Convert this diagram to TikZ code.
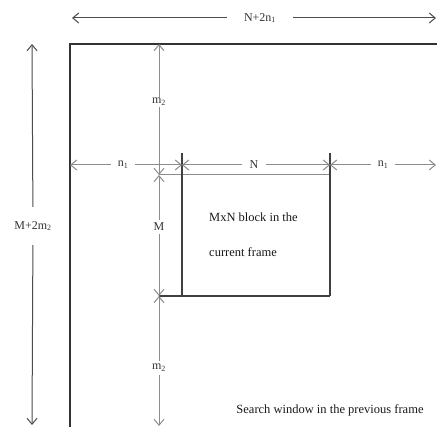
\documentclass[tikz,border=0pt]{standalone}
\usepackage{fontspec}
\setmainfont{Liberation Serif}
\usetikzlibrary{arrows.meta}
\begin{document}
\begin{tikzpicture}[x=1pt,y=-1pt,
  >={Straight Barb[length=6pt,width=10pt]},
  frame/.style={draw=black!80,line width=1.5pt},
  edge/.style={draw=black!75,line width=1.2pt},
  dimdark/.style={draw=black!70,line width=1pt},
  dimlight/.style={draw=black!45,line width=1pt},
  lab/.style={font=\fontsize{12}{14}\selectfont,text=black!80,inner sep=2pt},
  txt/.style={font=\fontsize{12.5}{15}\selectfont,text=black!90,inner sep=0pt}]
\useasboundingbox (0,0) rectangle (437,427);
% frame (search window)
\coordinate (ftl) at (70,44);
\coordinate (ftr) at (437,44);
\coordinate (fbl) at (70,427);
\draw[frame] (ftr) -- (ftl) -- (fbl);
% block
\coordinate (btl) at (159,175);
\coordinate (btr) at (330,175);
\coordinate (blt) at (182,153);
\coordinate (blb) at (182,296);
\coordinate (brt) at (330,153);
\coordinate (brb) at (330,296);
\coordinate (bbl) at (159,296);
\draw[dimlight] (btl) -- (btr);
\draw[edge] (blt) -- (blb);
\draw[edge] (brt) -- (brb);
\draw[edge] (bbl) -- (brb);
% top dimension N+2n1
\coordinate (ta) at (72,18);
\coordinate (tb) at (436,18);
\node[lab,inner xsep=17pt] (tl) at (260,18) {N+2n\textsubscript{1}};
\draw[dimdark,->] (tl) -- (ta);
\draw[dimdark,->] (tl) -- (tb);
% left dimension M+2m2
\coordinate (la) at (32,44);
\coordinate (lb) at (32,425);
\node[lab,inner ysep=14pt] (ll) at (33,226) {M+2m\textsubscript{2}};
\draw[dimdark,->] (ll) -- (la);
\draw[dimdark,->] (ll) -- (lb);
% vertical dimensions at x=159
\coordinate (v0) at (159,44);
\coordinate (v1) at (159,175);
\coordinate (v2) at (159,296);
\coordinate (v3) at (159,426);
\node[lab,inner ysep=1pt] (m2a) at (159,102) {m\textsubscript{2}};
\node[lab,inner ysep=3pt] (mm) at (159,227) {M};
\node[lab,inner ysep=3pt] (m2b) at (159,368) {m\textsubscript{2}};
\draw[dimlight,->] (m2a) -- (v0);
\draw[dimlight,->] (m2a) -- (v1);
\draw[dimlight,->] (mm) -- (v1);
\draw[dimlight,->] (mm) -- (v2);
\draw[dimlight,->] (m2b) -- (v2);
\draw[dimlight,->] (m2b) -- (v3);
% horizontal dimensions at y=165
\coordinate (h0) at (70,165);
\coordinate (h1) at (182,165);
\coordinate (h2) at (330,165);
\coordinate (h3) at (436,165);
\node[lab,inner xsep=7pt] (n1a) at (123,165) {n\textsubscript{1}};
\node[lab,inner xsep=7pt] (nn) at (254,165) {N};
\node[lab,inner xsep=7pt] (n1b) at (383,165) {n\textsubscript{1}};
\draw[dimlight,->] (n1a) -- (h0);
\draw[dimlight,->] (n1a) -- (h1);
\draw[dimlight,->] (nn) -- (h1);
\draw[dimlight,->] (nn) -- (h2);
\draw[dimlight,->] (n1b) -- (h2);
\draw[dimlight,->] (n1b) -- (h3);
% texts
\node[txt,anchor=west] (t1) at (209,217) {MxN block in the};
\node[txt,anchor=west] (t2) at (209,252) {current frame};
\node[txt] (t3) at (330,410) {Search window in the previous frame};
\end{tikzpicture}
\end{document}
